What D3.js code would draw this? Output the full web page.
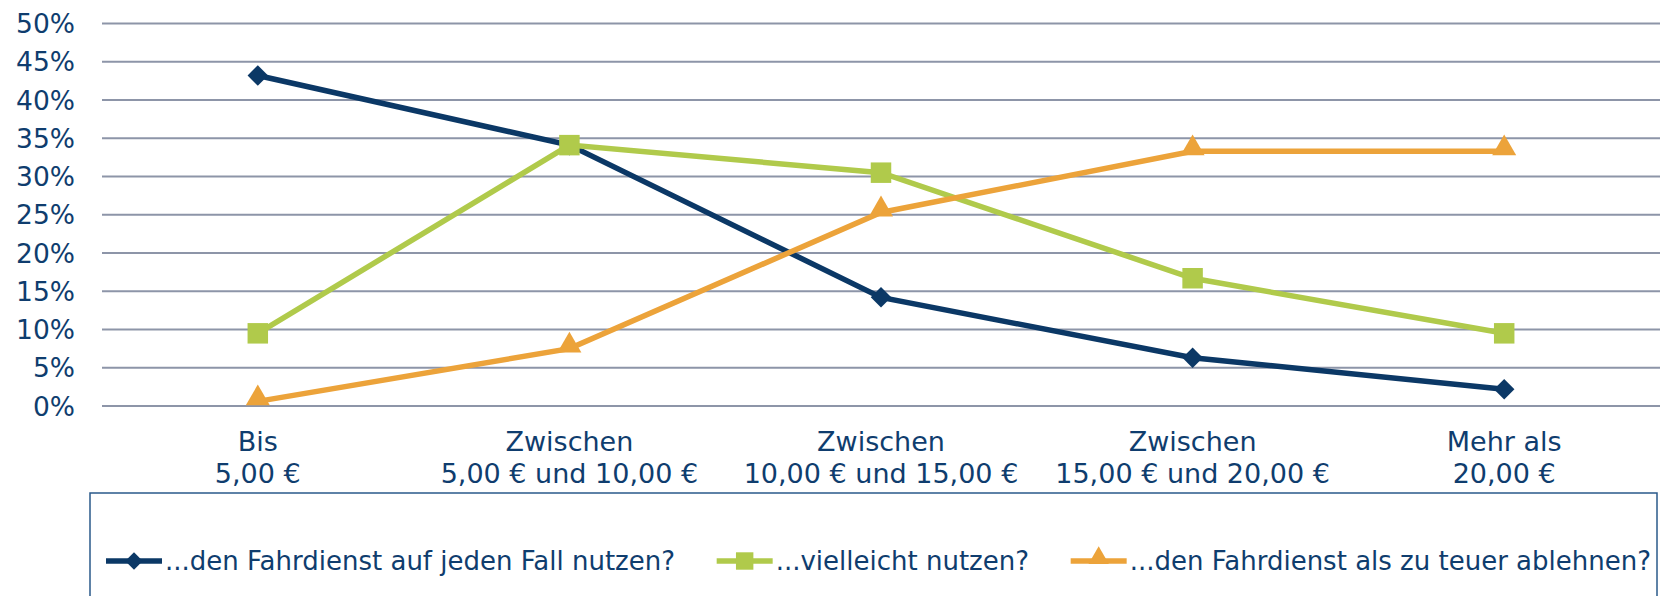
<!DOCTYPE html>
<html>
<head>
<meta charset="utf-8">
<script src="https://cdn.jsdelivr.net/npm/d3@7"></script>
<style>
  body { margin: 0; background: #fff; }
  svg { display: block; font-family: "DejaVu Sans", Verdana, sans-serif; }
</style>
</head>
<body>
<div class="chart"></div>
<script>
// price categories (two lines each)
const categories = [
  ["Bis", "5,00 €"],
  ["Zwischen", "5,00 € und 10,00 €"],
  ["Zwischen", "10,00 € und 15,00 €"],
  ["Zwischen", "15,00 € und 20,00 €"],
  ["Mehr als", "20,00 €"]
];
const seriesNames = [
  "...den Fahrdienst auf jeden Fall nutzen?",
  "...vielleicht nutzen?",
  "...den Fahrdienst als zu teuer ablehnen?"
];
const nutzen = [43.2, 34.1, 14.2, 6.3, 2.2];
const vielleicht = [9.5, 34.1, 30.5, 16.7, 9.5];
const ablehnen = [0.6, 7.5, 25.3, 33.3, 33.3];
const yTicks = [0, 5, 10, 15, 20, 25, 30, 35, 40, 45, 50];

const colors = ["#0b3866", "#b0ca4b", "#eca33a"];
const textColor = "#0f3d6e";

const W = 1660, H = 596;
const margin = { top: 23.5, right: 0, bottom: 190, left: 102 };

const svg = d3.select(".chart").append("svg")
  .attr("width", W)
  .attr("height", H);

const x = d3.scaleBand()
  .domain(d3.range(categories.length))
  .range([margin.left, W - margin.right]);

const y = d3.scaleLinear()
  .domain([0, 50])
  .range([406, margin.top]);

// marker shapes: diamond = rotated square
function marker(sel, s, scale) {
  scale = scale || 1;
  if (s === 0) {
    sel.attr("d", d3.symbol().type(d3.symbolSquare).size(210 * scale * scale)())
      .attr("transform", function () { return d3.select(this).attr("transform") + " rotate(45)"; });
  } else if (s === 1) {
    sel.attr("d", d3.symbol().type(d3.symbolSquare).size(420 * scale * scale)());
  } else {
    sel.attr("d", d3.symbol().type(d3.symbolTriangle).size(250 * scale * scale)());
  }
}

// gridlines
svg.append("g")
  .selectAll("line")
  .data(yTicks)
  .join("line")
  .attr("x1", margin.left)
  .attr("x2", W)
  .attr("y1", d => y(d))
  .attr("y2", d => y(d))
  .attr("stroke", "#8d95a8")
  .attr("stroke-width", 2);

// y labels
svg.append("g")
  .selectAll("text")
  .data(yTicks)
  .join("text")
  .attr("x", 75)
  .attr("y", d => y(d))
  .attr("dy", "0.36em")
  .attr("text-anchor", "end")
  .attr("font-size", "26.5px")
  .attr("fill", textColor)
  .text(d => d + "%");

// x labels
const xl = svg.append("g")
  .selectAll("text")
  .data(categories)
  .join("text")
  .attr("text-anchor", "middle")
  .attr("font-size", "27px")
  .attr("fill", textColor);

xl.append("tspan")
  .attr("x", (d, i) => x(i) + x.bandwidth() / 2)
  .attr("y", 451)
  .text(d => d[0]);
xl.append("tspan")
  .attr("x", (d, i) => x(i) + x.bandwidth() / 2)
  .attr("y", 483)
  .text(d => d[1]);

const allSeries = [nutzen, vielleicht, ablehnen];

const line = d3.line()
  .x((d, i) => x(i) + x.bandwidth() / 2)
  .y(d => y(d));

allSeries.forEach((vals, s) => {
  svg.append("path")
    .datum(vals)
    .attr("d", line)
    .attr("fill", "none")
    .attr("stroke", colors[s])
    .attr("stroke-width", 5.5);

  svg.append("g")
    .selectAll("path")
    .data(vals)
    .join("path")
    .attr("transform", (d, i) => `translate(${x(i) + x.bandwidth() / 2},${y(d) - (s === 2 ? 3 : 0)})`)
    .attr("fill", colors[s])
    .each(function () { marker(d3.select(this), s); });
});

// legend
svg.append("rect")
  .attr("x", 90)
  .attr("y", 493)
  .attr("width", 1567)
  .attr("height", 130)
  .attr("fill", "#fff")
  .attr("stroke", "#2a5a8a")
  .attr("stroke-width", 1.5);

const items = seriesNames.map((name, i) => {
  const g = svg.append("g");
  g.append("line")
    .attr("x1", 0).attr("x2", 56)
    .attr("stroke", colors[i])
    .attr("stroke-width", 5.5);
  g.append("path")
    .attr("transform", `translate(28,${i === 2 ? -3 : 0})`)
    .attr("fill", colors[i])
    .each(function () { marker(d3.select(this), i, 0.85); });
  const t = g.append("text")
    .attr("x", 59)
    .attr("dy", "0.36em")
    .attr("font-size", "26px")
    .attr("fill", textColor)
    .text(name);
  return { g, w: 59 + t.node().getComputedTextLength() };
});
const legStart = 106, legEnd = 1651;
const gap = (legEnd - legStart - d3.sum(items, d => d.w)) / (items.length - 1);
let lx = legStart;
items.forEach(it => {
  it.g.attr("transform", `translate(${lx},561)`);
  lx += it.w + gap;
});
</script>
</body>
</html>
